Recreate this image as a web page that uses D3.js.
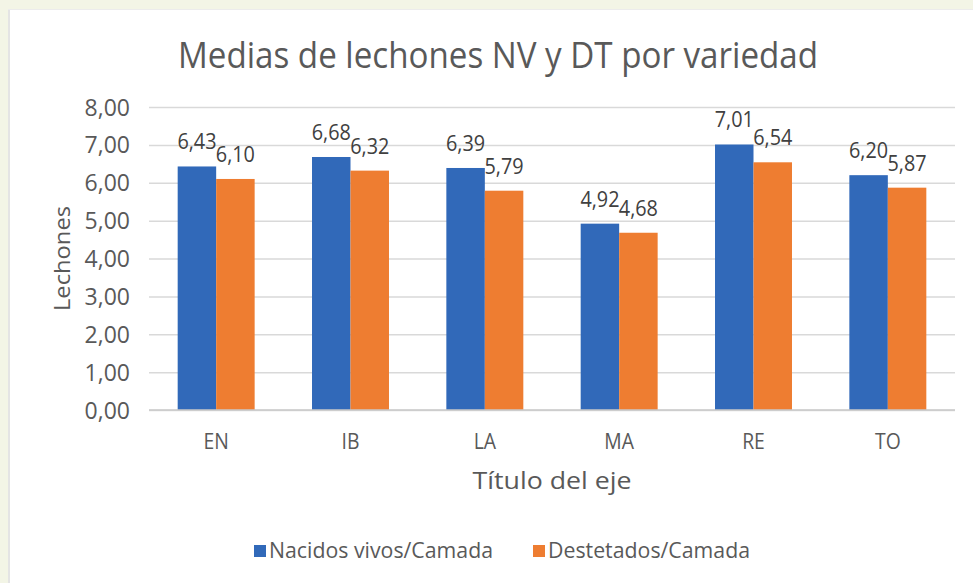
<!DOCTYPE html>
<html>
<head>
<meta charset="utf-8">
<script src="https://cdn.jsdelivr.net/npm/d3@7"></script>
<style>
  html, body { margin: 0; padding: 0; background: #f3f5e6; }
  svg { display: block; }
  text { font-family: "Open Sans", "Noto Sans", sans-serif; }
</style>
</head>
<body>
<div id="chart"></div>
<script>
// --- data ---
const categories = ['EN', 'IB', 'LA', 'MA', 'RE', 'TO'];
const seriesNames = ['Nacidos vivos/Camada', 'Destetados/Camada'];
const nacidosVivos = [6.43, 6.68, 6.39, 4.92, 7.01, 6.20];
const destetados = [6.10, 6.32, 5.79, 4.68, 6.54, 5.87];
const yTicks = [0, 1, 2, 3, 4, 5, 6, 7, 8];

const colors = ['#3169b9', '#ee7d31'];
const W = 973, H = 583;
const margin = { top: 107, right: 18, bottom: 173, left: 149 };

// squeeze text a little so Open Sans looks more like Calibri
function condense(sel, f) {
  sel.each(function () {
    const len = this.getComputedTextLength();
    d3.select(this).attr('textLength', len * f).attr('lengthAdjust', 'spacingAndGlyphs');
  });
}

const svg = d3.select('#chart').append('svg')
  .attr('width', W)
  .attr('height', H);

// chart area (white) on the cream page
svg.append('rect')
  .attr('x', 8).attr('y', 9)
  .attr('width', W - 8).attr('height', H - 9)
  .attr('fill', '#ffffff');
svg.append('line')
  .attr('x1', 9).attr('x2', 9).attr('y1', 9).attr('y2', H)
  .attr('stroke', '#e4e4e4').attr('stroke-width', 2);
svg.append('line')
  .attr('x1', 8).attr('x2', W).attr('y1', 9.5).attr('y2', 9.5)
  .attr('stroke', '#ececec').attr('stroke-width', 1);

const x = d3.scaleBand()
  .domain(categories)
  .range([margin.left, W - margin.right])
  .paddingInner(0.427)
  .paddingOuter(0.2135);

const xs = d3.scaleBand()
  .domain(d3.range(seriesNames.length))
  .range([0, x.bandwidth()]);

const y = d3.scaleLinear()
  .domain([0, 8])
  .range([H - margin.bottom, margin.top]);

const fmt = d => d3.format('.2f')(d).replace('.', ',');

// gridlines + y ticks
const yAxis = d3.axisLeft(y)
  .tickValues(yTicks)
  .tickSize(-(W - margin.right - margin.left))
  .tickPadding(19)
  .tickFormat(fmt);

const gy = svg.append('g')
  .attr('transform', `translate(${margin.left},0)`)
  .call(yAxis);
gy.select('.domain').remove();
gy.selectAll('.tick line').attr('stroke', '#d9d9d9').attr('stroke-width', 1.5);
gy.selectAll('.tick text')
  .attr('fill', '#595959')
  .attr('font-size', 23)
  .attr('dy', '0.35em');

// bars
const rows = categories.map((c, i) => ({ cat: c, vals: [nacidosVivos[i], destetados[i]] }));

const groups = svg.append('g').selectAll('g')
  .data(rows)
  .join('g')
  .attr('transform', d => `translate(${x(d.cat)},0)`);

groups.selectAll('rect')
  .data(d => d.vals.map((v, k) => ({ v, k })))
  .join('rect')
  .attr('x', d => xs(d.k))
  .attr('y', d => y(d.v))
  .attr('width', xs.bandwidth())
  .attr('height', d => y(0) - y(d.v))
  .attr('fill', d => colors[d.k]);

const lbls = groups.selectAll('text.lbl')
  .data(d => d.vals.map((v, k) => ({ v, k })))
  .join('text')
  .attr('class', 'lbl')
  .attr('x', d => xs(d.k) + xs.bandwidth() / 2)
  .attr('y', d => y(d.v) - 17)
  .attr('text-anchor', 'middle')
  .attr('font-size', 22)
  .attr('fill', '#404040')
  .text(d => fmt(d.v));
condense(lbls, 0.9);

// x axis
const xAxis = d3.axisBottom(x).tickSize(0).tickPadding(23);
const gx = svg.append('g')
  .attr('transform', `translate(0,${y(0)})`)
  .call(xAxis);
gx.select('.domain').attr('stroke', '#c9c9c9').attr('stroke-width', 1.5)
  .attr('d', `M${margin.left},0H${W - margin.right}`);
gx.selectAll('.tick text')
  .attr('fill', '#595959')
  .attr('font-size', 22);
condense(gx.selectAll('.tick text'), 0.88);

// titles
svg.append('text')
  .attr('x', 498).attr('y', 68)
  .attr('text-anchor', 'middle')
  .attr('font-size', 36)
  .attr('fill', '#595959')
  .attr('textLength', 640)
  .attr('lengthAdjust', 'spacingAndGlyphs')
  .text('Medias de lechones NV y DT por variedad');

svg.append('text')
  .attr('x', (margin.left + W - margin.right) / 2).attr('y', 489)
  .attr('text-anchor', 'middle')
  .attr('font-size', 23)
  .attr('fill', '#595959')
  .attr('textLength', 159)
  .attr('lengthAdjust', 'spacingAndGlyphs')
  .text('Título del eje');

svg.append('text')
  .attr('transform', `translate(70,${(y(0) + y(8)) / 2}) rotate(-90)`)
  .attr('text-anchor', 'middle')
  .attr('font-size', 22)
  .attr('fill', '#595959')
  .attr('textLength', 105)
  .attr('lengthAdjust', 'spacingAndGlyphs')
  .text('Lechones');

// legend
const legendItems = [
  { name: seriesNames[0], color: colors[0], x: 254, w: 224 },
  { name: seriesNames[1], color: colors[1], x: 533, w: 202 }
];
const lg = svg.append('g').selectAll('g')
  .data(legendItems)
  .join('g')
  .attr('transform', d => `translate(${d.x},551)`);
lg.append('rect')
  .attr('x', 0).attr('y', -6)
  .attr('width', 12).attr('height', 12)
  .attr('fill', d => d.color);
lg.append('text')
  .attr('x', 15).attr('y', 0)
  .attr('dy', '0.35em')
  .attr('font-size', 21)
  .attr('fill', '#595959')
  .attr('textLength', d => d.w)
  .attr('lengthAdjust', 'spacingAndGlyphs')
  .text(d => d.name);
</script>
</body>
</html>
